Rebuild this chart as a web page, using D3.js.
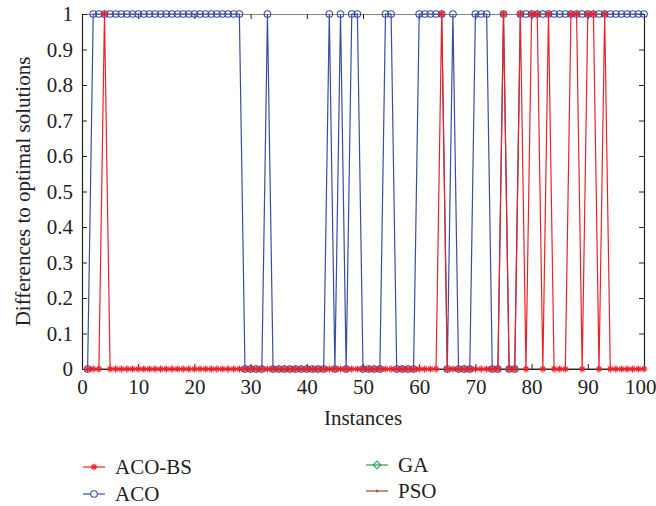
<!DOCTYPE html>
<html><head><meta charset="utf-8">
<script src="https://cdn.jsdelivr.net/npm/d3@7/dist/d3.min.js"></script>
<style>body{margin:0;background:#fff}svg{display:block}text{font-family:"Liberation Serif","DejaVu Serif",serif;fill:#222}</style>
</head><body><svg id="c" width="656" height="506"></svg>
<script>
const instances = d3.range(1, 101);
const acoBS = [0,0,0,1,0,0,0,0,0,0, 0,0,0,0,0,0,0,0,0,0, 0,0,0,0,0,0,0,0,0,0, 0,0,0,0,0,0,0,0,0,0,
               0,0,0,0,0,0,0,0,0,0, 0,0,0,0,0,0,0,0,0,0, 0,0,0,1,0,0,0,0,0,0, 0,0,0,0,1,0,0,1,0,1,
               1,0,1,0,0,0,1,1,0,1, 1,0,1,0,0,0,0,0,0,0];
const aco   = [0,1,1,1,1,1,1,1,1,1, 1,1,1,1,1,1,1,1,1,1, 1,1,1,1,1,1,1,1,0,0, 0,0,1,0,0,0,0,0,0,0,
               0,0,0,1,0,1,0,1,1,0, 0,0,0,1,1,0,0,0,0,1, 1,1,1,1,0,1,0,0,0,1, 1,1,0,0,1,0,0,1,1,1,
               1,1,1,1,1,1,1,1,1,1, 1,1,1,1,1,1,1,1,1,1];
const ga    = [0,0,0,0,0,0,0,0,0,0, 0,0,0,0,0,0,0,0,0,0, 0,0,0,0,0,0,0,0,0,0, 0,0,0,0,0,0,0,0,0,0,
               0,0,0,0,0,0,0,0,0,0, 0,0,0,0,0,0,0,0,0,0, 0,0,0,0,0,0,0,0,0,0, 0,0,0,0,0,0,0,0,0,0,
               0,0,0,0,0,0,0,0,0,0, 0,0,0,0,0,0,0,0,0,0];
const pso   = [0,0,0,0,0,0,0,0,0,0, 0,0,0,0,0,0,0,0,0,0, 0,0,0,0,0,0,0,0,0,0, 0,0,0,0,0,0,0,0,0,0,
               0,0,0,0,0,0,0,0,0,0, 0,0,0,0,0,0,0,0,0,0, 0,0,0,0,0,0,0,0,0,0, 0,0,0,0,0,0,0,0,0,0,
               0,0,0,0,0,0,0,0,0,0, 0,0,0,0,0,0,0,0,0,0];
const xTicks = [0,10,20,30,40,50,60,70,80,90,100];
const yTicks = [0,0.1,0.2,0.3,0.4,0.5,0.6,0.7,0.8,0.9,1];
const seriesNames = ["ACO-BS","ACO","GA","PSO"];

const C = {red:"#ec2227", blue:"#3a4da3", green:"#2e9a4e", brown:"#b9735f"};
const svg = d3.select("#c");
const L = 82, R = 644, T = 14, B = 369;
const x = d3.scaleLinear().domain([0,100]).range([L,R]);
const y = d3.scaleLinear().domain([0,1]).range([B,T]);

const fs = 21;
const plot = svg.append("g");

function lineOf(vals){ return d3.line().x((d,i)=>x(instances[i])).y(d=>y(d))(vals); }
function star(g, cx, cy, r, col){
  const s = g.append("g").attr("transform",`translate(${cx},${cy})`).attr("stroke",col).attr("stroke-width",1.3);
  [0,45,90,135].forEach(a=>{const t=a*Math.PI/180;
    s.append("line").attr("x1",-r*Math.cos(t)).attr("y1",-r*Math.sin(t)).attr("x2",r*Math.cos(t)).attr("y2",r*Math.sin(t));});
}
function diamond(g,cx,cy,r,col){
  g.append("path").attr("d",`M${cx},${cy-r}L${cx+r},${cy}L${cx},${cy+r}L${cx-r},${cy}Z`).attr("fill","none").attr("stroke",col).attr("stroke-width",1.1);
}

// hidden series first
plot.append("path").attr("d",lineOf(ga)).attr("fill","none").attr("stroke",C.green).attr("stroke-width",1.1);
plot.append("path").attr("d",lineOf(pso)).attr("fill","none").attr("stroke",C.brown).attr("stroke-width",1.1);

// axes frame
const ax = svg.append("g");
ax.append("g").attr("transform",`translate(0,${B})`)
  .call(d3.axisBottom(x).tickValues(xTicks).tickSizeInner(-5).tickSizeOuter(0).tickPadding(10).tickFormat(d3.format("d")))
  .call(g=>{g.select(".domain").attr("stroke","#222").attr("stroke-width",1.2);g.selectAll(".tick line").attr("stroke","#222");
    g.selectAll("text").attr("font-size",fs).attr("font-family","Liberation Serif").attr("fill","#222");
    g.selectAll(".tick").filter(d=>d===100).select("text").attr("text-anchor","end").attr("x",12);});
ax.append("g").attr("transform",`translate(0,${T})`)
  .call(d3.axisTop(x).tickValues(xTicks).tickSizeInner(-5).tickSizeOuter(0).tickFormat(""))
  .call(g=>{g.select(".domain").attr("stroke","#888").attr("stroke-width",1.2);g.selectAll(".tick line").attr("stroke","#222");});
ax.append("g").attr("transform",`translate(${L},0)`)
  .call(d3.axisLeft(y).tickValues(yTicks).tickSizeInner(-5).tickSizeOuter(0).tickPadding(9).tickFormat(d=>d===0||d===1?d3.format("d")(d):d3.format(".1f")(d)))
  .call(g=>{g.select(".domain").attr("stroke","#222").attr("stroke-width",1.2);g.selectAll(".tick line").attr("stroke","#222");
    g.selectAll("text").attr("font-size",fs).attr("font-family","Liberation Serif").attr("fill","#222");});
ax.append("g").attr("transform",`translate(${R},0)`)
  .call(d3.axisRight(y).tickValues(yTicks).tickSizeInner(-5).tickSizeOuter(0).tickFormat(""))
  .call(g=>{g.select(".domain").attr("stroke","#222").attr("stroke-width",1.2);g.selectAll(".tick line").attr("stroke","#222");});

// ACO
const g2 = svg.append("g");
g2.append("path").attr("d",lineOf(aco)).attr("fill","none").attr("stroke",C.blue).attr("stroke-width",1.2);
aco.forEach((v,i)=>g2.append("circle").attr("cx",x(instances[i])).attr("cy",y(v)).attr("r",3.3).attr("fill","none").attr("stroke",C.blue).attr("stroke-width",1.1));
// ACO-BS
const g1 = svg.append("g");
g1.append("path").attr("d",lineOf(acoBS)).attr("fill","none").attr("stroke",C.red).attr("stroke-width",1.2);
acoBS.forEach((v,i)=>star(g1, x(instances[i]), y(v), 3.4, C.red));

// titles
svg.append("text").attr("x",363).attr("y",425).attr("text-anchor","middle").attr("font-size",fs).text("Instances");
svg.append("text").attr("transform",`translate(30,${(T+B)/2}) rotate(-90)`).attr("text-anchor","middle").attr("font-size",fs).text("Differences to optimal solutions");

// legend
const lg = svg.append("g");
const items = [
  {n:seriesNames[0], x:83, y:467, c:C.red, m:"star"},
  {n:seriesNames[1], x:83, y:494, c:C.blue, m:"circle"},
  {n:seriesNames[2], x:366, y:465, c:C.green, m:"diamond"},
  {n:seriesNames[3], x:366, y:491, c:C.brown, m:"pso"}
];
items.forEach(it=>{
  const cx = it.x+11;
  if(it.m==="pso"){
    lg.append("line").attr("x1",it.x).attr("x2",it.x+22).attr("y1",it.y).attr("y2",it.y).attr("stroke","#c9917d").attr("stroke-width",2);
    lg.append("line").attr("x1",cx).attr("x2",cx).attr("y1",it.y-1.5).attr("y2",it.y+1.5).attr("stroke","#8a2020").attr("stroke-width",1);
  } else {
    lg.append("line").attr("x1",it.x).attr("x2",it.x+22).attr("y1",it.y).attr("y2",it.y).attr("stroke",it.c).attr("stroke-width",1.2);
    if(it.m==="star") star(lg,cx,it.y,3.2,it.c);
    if(it.m==="circle") lg.append("circle").attr("cx",cx).attr("cy",it.y).attr("r",3.3).attr("fill","#fff").attr("stroke",it.c).attr("stroke-width",1.1);
    if(it.m==="diamond") diamond(lg,cx,it.y,3.8,it.c);
  }
  lg.append("text").attr("x",it.x+32).attr("y",it.y+7).attr("font-size",fs).text(it.n);
});
</script></body></html>
